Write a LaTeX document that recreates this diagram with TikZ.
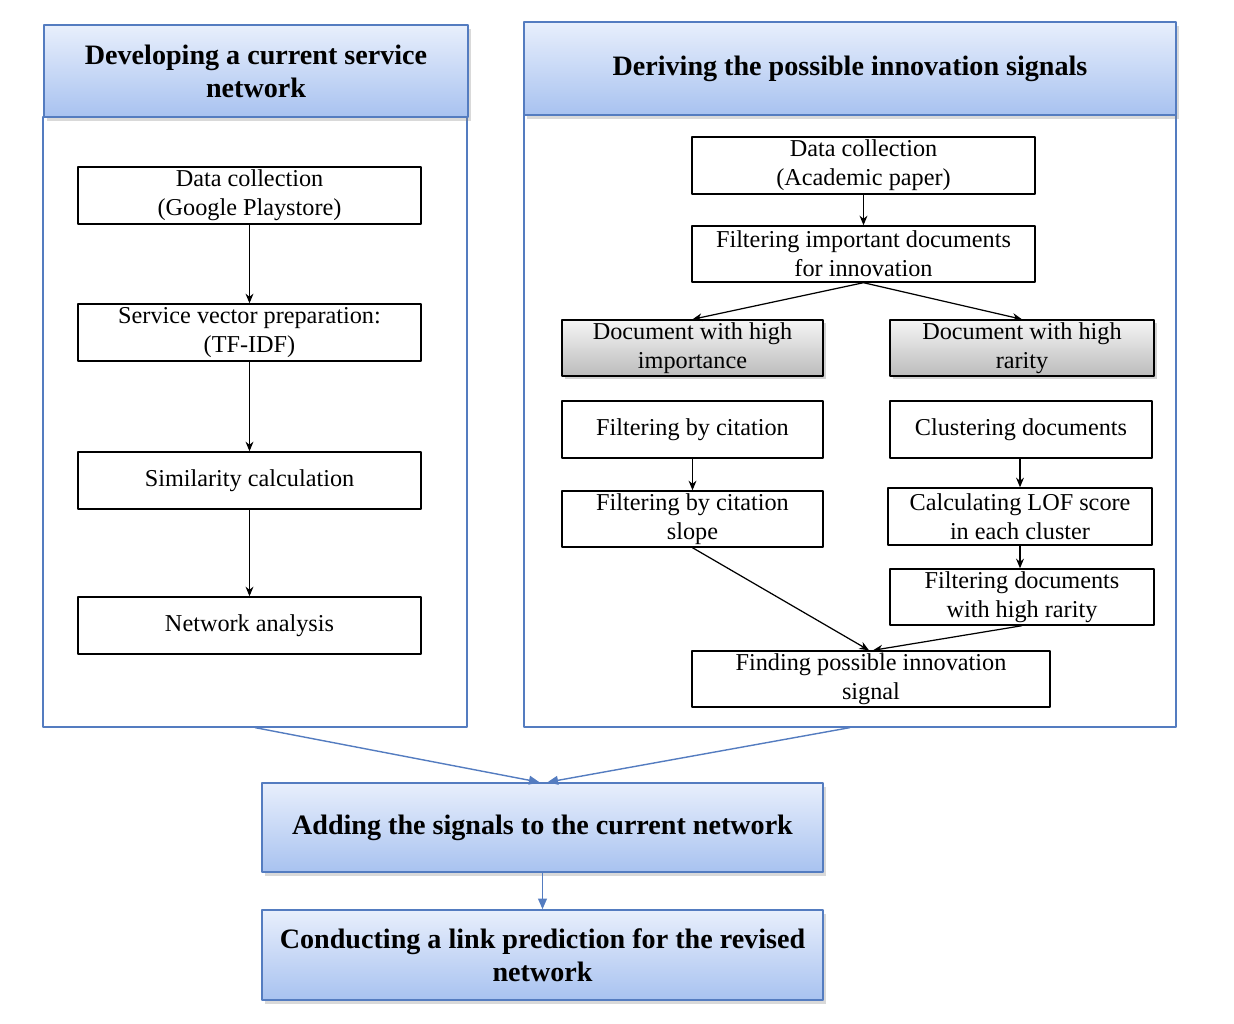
\documentclass[tikz,border=0pt]{standalone}
\usepackage{fontspec}
\setmainfont{Liberation Serif}
\usetikzlibrary{shadows,arrows.meta}
\definecolor{hdtop}{RGB}{232,239,252}
\definecolor{hdbot}{RGB}{168,194,240}
\definecolor{hdline}{RGB}{84,124,192}
\definecolor{gytop}{RGB}{245,245,245}
\definecolor{gybot}{RGB}{188,188,188}
\begin{document}
\begin{tikzpicture}[x=0.02cm,y=-0.02cm,>={Stealth[length=5.5pt,width=4.5pt]}, line join=round,
	w/.style={minimum width=#1*0.02cm}, h/.style={minimum height=#1*0.02cm},
	box/.style={draw, line width=0.8pt, align=center, inner sep=1pt, font=\fontsize{13.8}{16.5}\selectfont},
	graybox/.style={box, top color=gytop, bottom color=gybot, drop shadow={opacity=0.35, shadow xshift=1.5pt, shadow yshift=-1.5pt}},
	head/.style={draw=hdline, line width=0.9pt, align=center, top color=hdtop, bottom color=hdbot, font=\fontsize{16}{18.8}\selectfont\bfseries, drop shadow={opacity=0.3, shadow xshift=1.5pt, shadow yshift=-2pt}},
	panel/.style={draw=hdline, line width=0.7pt, inner sep=0pt},
	blk/.style={->, line width=0.7pt},
	blu/.style={-{Triangle[length=6pt,width=5pt]}, draw=hdline, line width=0.8pt}]
	\useasboundingbox (0,0) rectangle (1234,1024);
	% panels
	\node[panel, w=424, h=610] (lpan) at (255,422) {};
	\node[panel, w=652, h=612] (rpan) at (850,421) {};
	\node[head, w=424, h=92] (lhead) at (256,71) {Developing a current service\\network};
	\node[head, w=652, h=93] (rhead) at (850,68.5) {Deriving the possible innovation signals};
	% left column
	\node[box, w=343, h=57] (dc) at (249.5,195.5) {Data collection\\(Google Playstore)};
	\node[box, w=343, h=57] (svp) at (249.5,332.5) {Service vector preparation:\\(TF-IDF)};
	\node[box, w=343, h=57] (sim) at (249.5,480.5) {Similarity calculation};
	\node[box, w=343, h=57] (net) at (249.5,625.5) {Network analysis};
	\draw[blk] (dc) -- (svp);
	\draw[blk] (svp) -- (sim);
	\draw[blk] (sim) -- (net);
	% right column
	\node[box, w=343, h=57] (dca) at (863.5,165.5) {Data collection\\(Academic paper)};
	\node[box, w=343, h=56] (fid) at (863.5,254) {Filtering important documents\\for innovation};
	\node[graybox, w=261, h=56] (dhi) at (692.5,348) {Document with high\\importance};
	\node[graybox, w=264, h=56] (dhr) at (1022,348) {Document with high\\rarity};
	\node[box, w=261, h=57] (fbc) at (692.5,429.5) {Filtering by citation};
	\node[box, w=261, h=56] (fbs) at (692.5,519) {Filtering by citation\\slope};
	\node[box, w=262, h=57] (clu) at (1021,429.5) {Clustering documents};
	\node[box, w=264, h=57] (lof) at (1020,516.5) {Calculating LOF score\\in each cluster};
	\node[box, w=264, h=56] (fdr) at (1022,597) {Filtering documents\\with high rarity};
	\node[box, w=358, h=56] (fpi) at (871,679) {Finding possible innovation\\signal};
	\draw[blk] (dca) -- (fid);
	\draw[blk] (fid.south) -- (dhi.north);
	\draw[blk] (fid.south) -- (dhr.north);
	\draw[blk] (fbc) -- (fbs);
	\draw[blk] (clu.south -| lof.north) -- (lof.north);
	\draw[blk] (lof.south) -- (lof.south |- fdr.north);
	\draw[blk] (fbs.south) -- ([xshift=-0.04cm]fpi.north);
	\draw[blk] (fdr.south) -- ([xshift=0.04cm]fpi.north);
	% bottom
	\node[head, w=561, h=89] (add) at (542.5,827.5) {Adding the signals to the current network};
	\node[head, w=561, h=90] (con) at (542.5,955) {Conducting a link prediction for the revised\\network};
	\draw[blu] (lpan.south) -- ([xshift=-0.06cm]add.north);
	\draw[blu] (rpan.south) -- ([xshift=0.1cm]add.north);
	\draw[blu] (add) -- (con);
\end{tikzpicture}
\end{document}
